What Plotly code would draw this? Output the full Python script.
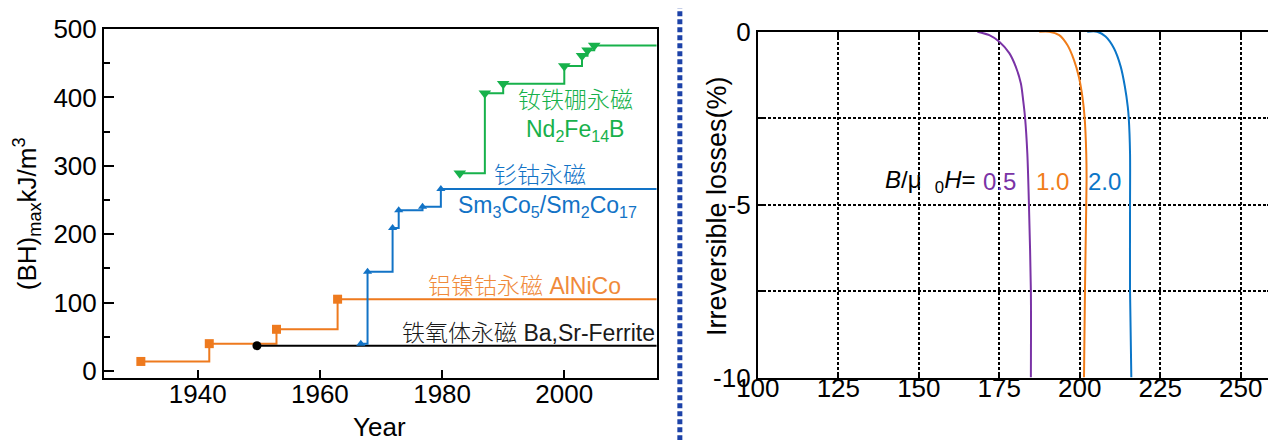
import plotly.graph_objects as go

# ---------------- Left panel data: (BH)max vs year ----------------
alnico_year = [1930.7, 1941.9, 1952.9, 1962.9]
alnico_bh = [14, 40, 61, 105]
ferrite_year = [1949.7]
ferrite_bh = [37]
smco_year = [1966.7, 1967.8, 1971.9, 1972.9, 1976.8, 1979.8]
smco_bh = [40, 145, 209, 235, 240, 266]
ndfeb_year = [1982.9, 1987.0, 1990.0, 2000.0, 2002.9, 2003.8, 2004.9]
ndfeb_bh = [289, 406, 420, 446, 461, 469, 476]
year_end = 2016
year_ticks = [1940, 1960, 1980, 2000]

# ---------------- Right panel data: irreversible losses vs temperature ----------------
temp_05 = [168.2, 171.9, 175.0, 178.1, 180.1, 181.7, 182.4, 183.0, 183.7, 184.2, 184.8, 184.8]
loss_05 = [0, -0.10, -0.29, -0.62, -1.01, -1.50, -1.98, -2.49, -3.52, -5.0, -7.5, -10]
temp_10 = [187.4, 190.5, 193.6, 196.1, 198.2, 199.7, 200.8, 201.5, 202.0, 202.1, 202.0, 201.6, 201.3]
loss_10 = [0, 0, -0.10, -0.38, -0.82, -1.30, -1.88, -2.49, -3.52, -4.2, -5.0, -7.5, -10]
temp_20 = [202.3, 205.4, 208.0, 210.6, 212.7, 214.0, 214.9, 215.2, 215.6, 215.6, 215.6, 216.0]
loss_20 = [0, 0, -0.14, -0.48, -1.01, -1.59, -2.17, -2.49, -3.52, -5.0, -7.5, -10]
temp_ticks = [100, 125, 150, 175, 200, 225, 250]
loss_ticks = [0, -2.5, -5, -7.5, -10]
loss_ticktext = ["0", "", "-5", "", "-10"]

C_OR = "#EE7A1E"
C_BL = "#1273C6"
C_GR = "#17B14B"
C_PU = "#7A33A6"
C_OR2 = "#F07D1A"
C_BL2 = "#0B76C8"

fig = go.Figure()

def step(xs, ys, color, symbol, size):
    fig.add_trace(go.Scatter(x=xs + [year_end], y=ys + [ys[-1]], mode="lines",
                             line=dict(color=color, width=2, shape="hv"), hoverinfo="skip"))
    fig.add_trace(go.Scatter(x=xs, y=ys, mode="markers",
                             marker=dict(color=color, symbol=symbol, size=size, line=dict(width=0))))

step(alnico_year, alnico_bh, C_OR, "square", 9)
step(ferrite_year, ferrite_bh, "#000000", "circle", 9)
step(smco_year, smco_bh, C_BL, "triangle-up", 8)
step(ndfeb_year, ndfeb_bh, C_GR, "triangle-down", 11)

for t, l, c in [(temp_05, loss_05, C_PU), (temp_10, loss_10, C_OR2), (temp_20, loss_20, C_BL2)]:
    fig.add_trace(go.Scatter(x=t, y=l, mode="lines", xaxis="x2", yaxis="y2",
                             line=dict(color=c, width=2, shape="spline", smoothing=0.8)))

tickfont = dict(family="Liberation Sans, Arial", size=26, color="#000")
# the page body adds an 8px offset; all reference pixel positions are shifted by O
O = 8
W, H = 1268, 432
ML, MR, MT, MB = 104 - O, 1276 - 1273.3, 29 - O, 440 - 377.7
PW = W - ML - MR
PH = H - MT - MB

def px(x):
    return (x - O - ML) / PW

def py(y):
    return (H - MB - (y - O)) / PH

fig.update_layout(
    width=W, height=H,
    margin=dict(l=ML, r=MR, t=MT, b=MB, autoexpand=False),
    paper_bgcolor="white", plot_bgcolor="white",
    showlegend=False,
    font=dict(family="Liberation Sans, Arial, Noto Sans CJK SC", size=26, color="#000"),
    xaxis=dict(domain=[0, px(656.7)], range=[1924.67, 2015.1], tickvals=year_ticks,
               ticks="inside", ticklen=8, tickwidth=2, tickcolor="#000", ticklabelstandoff=-8,
               showline=True, linewidth=2, linecolor="#000", mirror=True,
               showgrid=False, zeroline=False, tickfont=tickfont, automargin=False),
    yaxis=dict(domain=[0, 1], range=[-10.2, 500], dtick=100,
               ticks="inside", ticklen=10, tickwidth=2, tickcolor="#000",
               minor=dict(dtick=50, ticks="inside", ticklen=6, tickwidth=2, tickcolor="#000"),
               showline=True, linewidth=2, linecolor="#000", mirror=True,
               showgrid=False, zeroline=False, tickfont=tickfont, automargin=False),
    xaxis2=dict(domain=[px(758), 1], range=[100, 260], tickvals=temp_ticks,
                ticks="inside", ticklen=6, tickwidth=2, tickcolor="#000", ticklabelstandoff=-14,
                showline=True, linewidth=2, linecolor="#000", mirror="ticks",
                showgrid=True, gridcolor="#000", gridwidth=1.7, griddash="3px,2px",
                zeroline=False, tickfont=tickfont, automargin=False, anchor="y2"),
    yaxis2=dict(domain=[py(377.3), py(31.7)], range=[-10, 0], tickvals=loss_ticks,
                ticktext=loss_ticktext,
                ticks="inside", ticklen=6, tickwidth=2, tickcolor="#000",
                showline=True, linewidth=2, linecolor="#000", mirror="ticks",
                showgrid=True, gridcolor="#000", gridwidth=1.7, griddash="3px,2px",
                zeroline=False, tickfont=tickfont, automargin=False, anchor="x2"),
)

ann_font = "Liberation Sans, Arial, Noto Sans CJK SC"
anns = [
    dict(text="钕铁硼永磁", x=2001.8, y=396, color=C_GR, xanchor="center"),
    dict(text="Nd<sub>2</sub>Fe<sub>14</sub>B", x=2001.8, y=352, color=C_GR, xanchor="center"),
    dict(text="钐钴永磁", x=1996.0, y=286, color=C_BL, xanchor="center"),
    dict(text="Sm<sub>3</sub>Co<sub>5</sub>/Sm<sub>2</sub>Co<sub>17</sub>", x=1997.3, y=240, color=C_BL, xanchor="center"),
    dict(text="铝镍钴永磁 AlNiCo", x=1993.5, y=125, color="#F08A3A", xanchor="center"),
    dict(text="铁氧体永磁 Ba,Sr-Ferrite", x=2015.1, y=55, color="#1a1a1a", xanchor="right"),
]
for a in anns:
    fig.add_annotation(text=a["text"], x=a["x"], y=a["y"], xref="x", yref="y",
                       xanchor=a["xanchor"], yanchor="middle", showarrow=False,
                       font=dict(family=ann_font, size=23, color=a["color"], weight=300))

# right-panel label
fig.add_annotation(text="<i>B</i>/μ  <sub>0</sub><i>H</i>=", x=168.3, y=-4.32, xref="x2", yref="y2",
                   xanchor="right", yanchor="middle", showarrow=False,
                   font=dict(family="Liberation Sans, Arial", size=24, color="#000"))
for txt, xv, c in [("0.5", 169.4, C_PU), ("1.0", 185.8, C_OR2), ("2.0", 201.8, C_BL2)]:
    fig.add_annotation(text=txt, x=xv, y=-4.32, xref="x2", yref="y2",
                       xanchor="left", yanchor="middle", showarrow=False,
                       font=dict(family="Liberation Sans, Arial", size=24, color=c))

# axis titles
fig.add_annotation(text="Year", x=px(380), y=py(427), xref="paper", yref="paper",
                   xanchor="center", yanchor="middle", showarrow=False,
                   font=dict(family="Liberation Sans, Arial", size=26, color="#000"))
fig.add_annotation(text="(BH)<sub>max</sub>kJ/m<sup>3</sup>", x=px(27), y=py(214), xref="paper", yref="paper",
                   xanchor="center", yanchor="middle", textangle=-90, showarrow=False,
                   font=dict(family="Liberation Sans, Arial", size=26, color="#000"))
fig.add_annotation(text="Irreversible losses(%)", x=px(717), y=py(206), xref="paper", yref="paper",
                   xanchor="center", yanchor="middle", textangle=-90, showarrow=False,
                   font=dict(family="Liberation Sans, Arial", size=27, color="#000"))

# dotted separator
fig.add_shape(type="line", xref="paper", yref="paper", x0=px(680), x1=px(680),
              y0=py(440), y1=py(8), line=dict(color="#1C42A8", width=5, dash="5px,3px"))

fig.write_html("out.html")
